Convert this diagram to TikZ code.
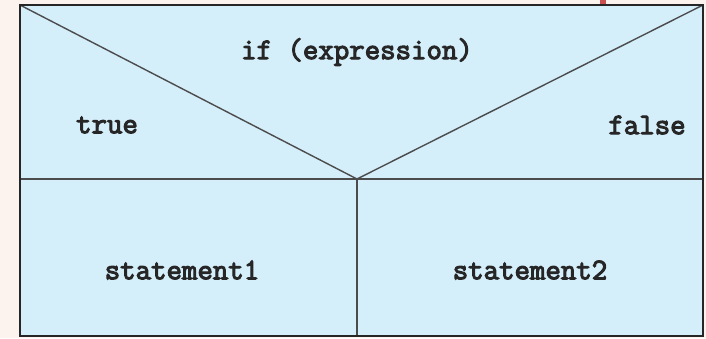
\documentclass[tikz,border=0pt]{standalone}
\usepackage{fontspec}
\newfontfamily\codefont[AutoFakeBold=3.5]{Latin Modern Mono}
\usepackage{tikz}
\definecolor{boxblue}{RGB}{212,238,250}
\definecolor{bgpeach}{RGB}{253,243,238}
\definecolor{markred}{RGB}{200,80,80}

\begin{document}
\begin{tikzpicture}[x=1pt, y=-1pt,
  word/.style={font=\codefont\bfseries\fontsize{30}{34}\selectfont, text=black!85},
  divider/.style={draw=black!70, line width=1.4pt}]

\fill[bgpeach] (0,0) rectangle (706,338);
\useasboundingbox (0,0) rectangle (706,338);
\fill[markred] (600,0) rectangle (606,5);

\coordinate (tl) at (20,5);
\coordinate (tr) at (703,5);
\coordinate (bl) at (20,336);
\coordinate (br) at (703,336);
\coordinate (midleft) at (20,179);
\coordinate (midright) at (703,179);
\coordinate (apex) at (357,179);
\coordinate (foot) at (357,336);

\fill[boxblue] (tl) rectangle (br);
\draw[divider] (tl) -- (apex) -- (tr);
\draw[divider] (midleft) -- (midright);
\draw[divider] (apex) -- (foot);
\draw[black!85, line width=2pt] (tl) rectangle (br);

\node[word] (cond) at (357,52) {if (expression)};
\node[word] (yes) at (107,125) {true};
\node[word] (no) at (647,125) {false};
\node[word] (stmta) at (182,270) {statement1};
\node[word] (stmtb) at (530,270) {statement2};
\end{tikzpicture}
\end{document}
